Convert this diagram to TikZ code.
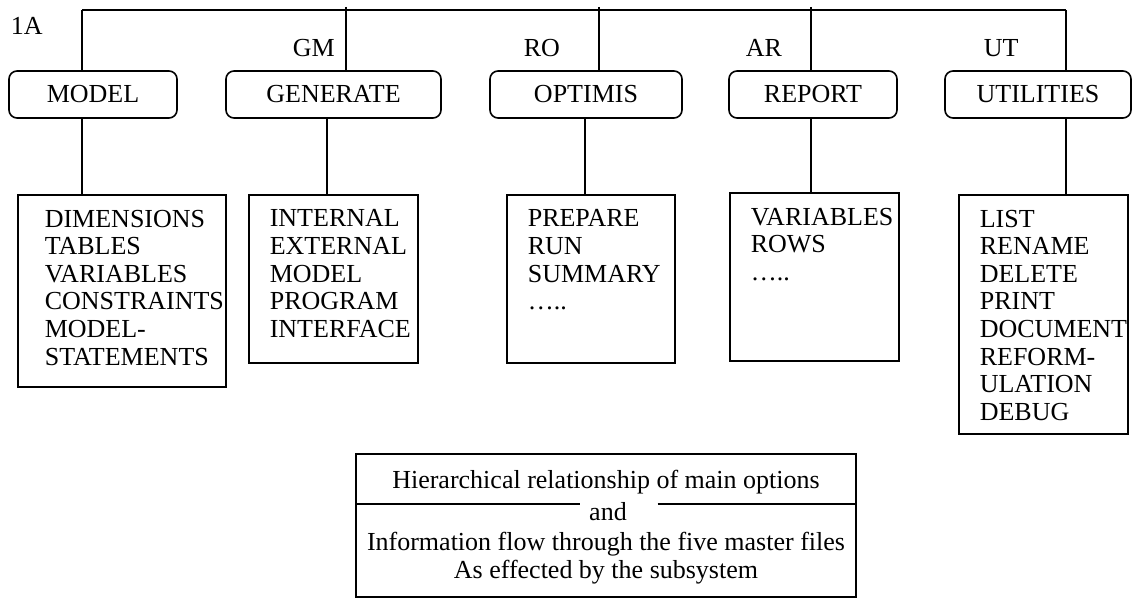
\documentclass[tikz,border=0pt]{standalone}
\usepackage{fontspec}
\setmainfont{Liberation Serif}
\usepackage{tikz}
\usetikzlibrary{positioning}

\begin{document}
\begin{tikzpicture}[
                x=0.5pt, y=-0.5pt,
                line width=0.8pt,
                font=\fontsize{13}{13.8}\selectfont,
                option/.style={rectangle, draw, rounded corners=4pt, minimum height=23.5pt, inner sep=0pt},
                listbox/.style={rectangle, draw, anchor=north west, inner sep=0pt},
                entries/.style={anchor=north west, align=left, inner sep=0pt},
                code/.style={anchor=base west, inner sep=0pt},
                caption/.style={anchor=base, inner sep=0pt}
            ]
                \useasboundingbox (0,0) rectangle (1132,599);

                % Main options
                \node[option, minimum width=84pt] (model) at (93,94.5) {MODEL};
                \node[option, minimum width=107.5pt] (generate) at (333.5,94.5) {GENERATE};
                \node[option, minimum width=96pt] (optimis) at (586,94.5) {OPTIMIS};
                \node[option, minimum width=84pt] (report) at (813,94.5) {REPORT};
                \node[option, minimum width=93pt] (utilities) at (1038,94.5) {UTILITIES};

                % Codes
                \node[code] (c1a) at (10,35) {1A};
                \node[code] (cgm) at (292,57) {GM};
                \node[code] (cro) at (523,57) {RO};
                \node[code] (car) at (745,57) {AR};
                \node[code] (cut) at (983,57) {UT};

                % Bus
                \coordinate (b1) at (82,10);
                \coordinate (b2) at (346,7);
                \coordinate (b3) at (599,7);
                \coordinate (b4) at (811,7);
                \coordinate (b5) at (1066,10);
                \draw (b1) -- (b5);
                \foreach \b/\opt in {b1/model, b2/generate, b3/optimis, b4/report, b5/utilities}
                    \draw (\b) -- (\b |- \opt.north);

                % Sub-options
                \node[listbox, minimum width=104pt, minimum height=96pt] (dims) at (17,194) {};
                \node[listbox, minimum width=84.5pt, minimum height=84pt] (intern) at (248,194) {};
                \node[listbox, minimum width=84pt, minimum height=84pt] (prep) at (506,194) {};
                \node[listbox, minimum width=84.5pt, minimum height=84pt] (rows) at (729,192) {};
                \node[listbox, minimum width=84.5pt, minimum height=119.5pt] (list) at (958,194) {};

                \node[entries] (dimstxt) at ([shift={(27,15)}]dims.north west)
                    {DIMENSIONS\\TABLES\\VARIABLES\\CONSTRAINTS\\MODEL-\\STATEMENTS};
                \node[entries] (interntxt) at ([shift={(21,15)}]intern.north west)
                    {INTERNAL\\EXTERNAL\\MODEL\\PROGRAM\\INTERFACE};
                \node[entries] (preptxt) at ([shift={(21,15)}]prep.north west)
                    {PREPARE\\RUN\\SUMMARY\\…..};
                \node[entries] (rowstxt) at ([shift={(21,15)}]rows.north west)
                    {VARIABLES\\ROWS\\…..};
                \node[entries] (listtxt) at ([shift={(21,15)}]list.north west)
                    {LIST\\RENAME\\DELETE\\PRINT\\DOCUMENT\\REFORM-\\ULATION\\DEBUG};

                % Drops
                \coordinate (d1) at (82,0);
                \coordinate (d2) at (327,0);
                \coordinate (d3) at (585,0);
                \coordinate (d4) at (811,0);
                \coordinate (d5) at (1066,0);
                \foreach \d/\opt/\sub in {d1/model/dims, d2/generate/intern, d3/optimis/prep, d4/report/rows, d5/utilities/list}
                    \draw (\opt.south -| \d) -- (\sub.north -| \d);

                % Caption
                \node[rectangle, draw, minimum width=250pt, minimum height=71.5pt] (note) at (606,525.5) {};
                \node[caption] (hier) at (606,488) {Hierarchical relationship of main options};
                \node[caption] (andtxt) at (608,520) {and};
                \node[caption] (info) at (606,550) {Information flow through the five master files};
                \node[caption] (subsys) at (606,578) {As effected by the subsystem};
                \coordinate (andleft) at ([shift={(-8,-16)}]andtxt.base west);
                \coordinate (andright) at ([shift={(30,-16)}]andtxt.base east);
                \draw (note.west |- andleft) -- (andleft);
                \draw (andright) -- (note.east |- andright);
            \end{tikzpicture}
\end{document}
